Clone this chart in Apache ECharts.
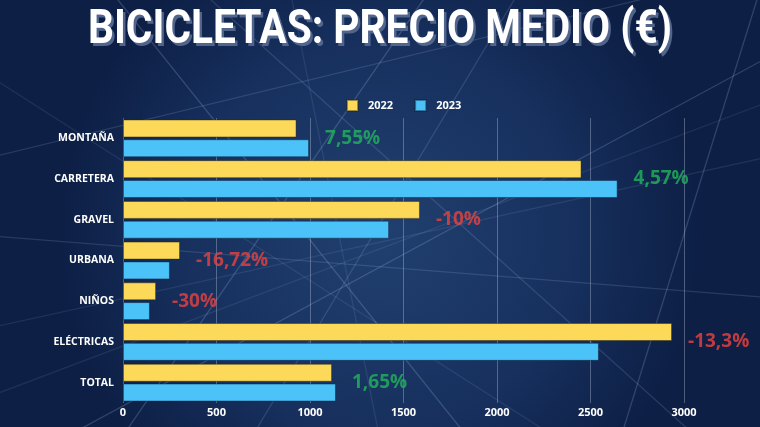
<!DOCTYPE html>
<html><head><meta charset="utf-8">
<script src="https://cdn.jsdelivr.net/npm/echarts@6/dist/echarts.min.js"></script>
<style>html,body{margin:0;padding:0;background:#13295a}#c{width:760px;height:427px}</style>
</head><body><div id="c"></div>
<script>
const categories = ['MONTAÑA','CARRETERA','GRAVEL','URBANA','NIÑOS','ELÉCTRICAS','TOTAL'];
const values2022 = [928, 2452, 1588, 305, 177, 2936, 1118];
const values2023 = [995, 2645, 1423, 251, 144, 2545, 1139];
const changeLabels = ['7,55%','4,57%','-10%','-16,72%','-30%','-13,3%','1,65%'];
const xTicks = [0, 500, 1000, 1500, 2000, 2500, 3000];
const titleText = 'BICICLETAS: PRECIO MEDIO (€)';

const chart = echarts.init(document.getElementById('c'), null, {renderer:'canvas'});

// title width fitting (condensed look)
const titleFont = 'bold 48px Roboto';
const mctx = document.createElement('canvas').getContext('2d');
mctx.font = titleFont;
const tw = mctx.measureText(titleText).width;
const sx = 584 / tw;

// decorative spokes crossing the picture
const spokes = [[-20,70,560,440],[-20,235,800,300],[110,-10,470,440],[290,-10,380,440],
  [520,-10,250,440],[800,40,60,440],[800,150,-20,330],[680,-10,-20,160],[620,440,760,-10],[-20,400,800,90],
  [200,-10,700,440],[430,-10,120,440]];
const rays = spokes.map((s,i)=>({type:'line', silent:true, z:-10,
  shape:{x1:s[0],y1:s[1],x2:s[2],y2:s[3]},
  style:{stroke:'rgba(190,215,255,' + (0.10 + (i%3)*0.05) + ')', lineWidth: 1.3}}));

const titleGraphic = {
  type:'group', x:380, y:31, scaleX: sx, z:10,
  children:[
    {type:'text', x:2.5/sx, y:2.5, style:{text:titleText, font:titleFont, fill:'rgba(80,100,140,1)', align:'center', verticalAlign:'middle'}},
    {type:'text', x:0, y:0, style:{text:titleText, font:titleFont, fill:'#ffffff', align:'center', verticalAlign:'middle'}}
  ]
};

const maxVals = values2022.map((v,i)=>Math.max(v, values2023[i]));

chart.setOption({
  backgroundColor: {type:'radial', x:0.5, y:0.55, r:0.75,
    colorStops:[{offset:0,color:'#21406f'},{offset:0.6,color:'#17305e'},{offset:1,color:'#0d1f45'}]},
  graphic: rays.concat([titleGraphic]),
  legend: {
    top: 94, left: 341, itemWidth: 11, itemHeight: 11, itemGap: 21,
    icon: 'rect',
    textStyle: {color:'#ffffff', fontWeight:'bold', fontSize:11, fontFamily:'Open Sans', padding:[0,0,0,5]},
    data: ['2022','2023']
  },
  grid: {left:123, right:76, top:118, bottom:24, containLabel:false},
  xAxis: {
    type:'value', min:0, max:3000, interval:500,
    axisLine:{show:false}, axisTick:{show:false},
    splitLine:{show:true, lineStyle:{color:'rgba(200,210,230,0.35)', width:1}},
    axisLabel:{color:'#ffffff', fontWeight:'bold', fontSize:11, fontFamily:'Open Sans', margin:4,
      formatter: v => xTicks.includes(v) ? String(v) : ''}
  },
  yAxis: {
    type:'category', data: categories, inverse:true,
    axisLine:{show:false}, axisTick:{show:false},
    axisLabel:{color:'#ffffff', fontWeight:'bold', fontSize:10.5, fontFamily:'Open Sans', margin:9}
  },
  series: [
    {name:'2022', type:'bar', data: values2022, barWidth:18, barGap:'10%',
      itemStyle:{color:'#fdd95a', borderColor:'rgba(40,40,20,0.45)', borderWidth:1}},
    {name:'2023', type:'bar', data: values2023, barWidth:18, barGap:'10%',
      itemStyle:{color:'#4cc3f8', borderColor:'rgba(10,30,60,0.45)', borderWidth:1}},
    {name:'cambio', type:'scatter', symbolSize:0, silent:true,
      data: maxVals.map((v,i)=>({value:[v,i], label:{color: changeLabels[i].startsWith('-') ? '#ea4240' : '#22b45c'}})),
      label:{show:true, position:'right', distance:16, fontFamily:'Open Sans', fontWeight:'bold', fontSize:19,
        formatter: p => changeLabels[p.dataIndex]}
    }
  ]
});
</script></body></html>
